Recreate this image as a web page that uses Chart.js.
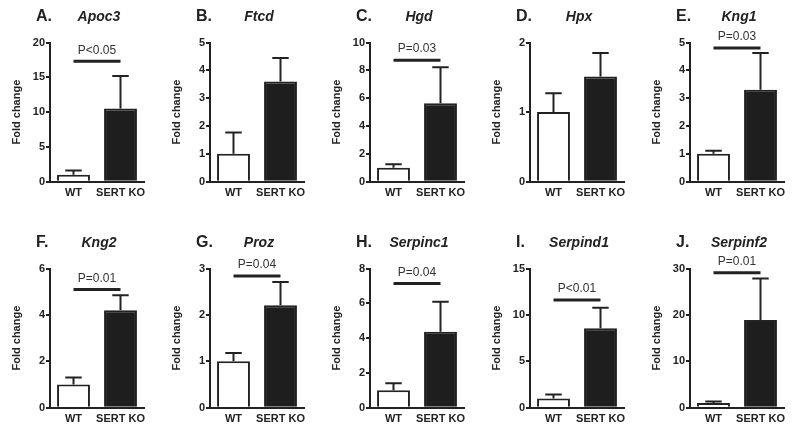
<!DOCTYPE html>
<html lang="en">
<head>
  <meta charset="UTF-8" />
  <title>Fold change, WT vs SERT KO</title>
  <script src="https://cdn.jsdelivr.net/npm/chart.js"></script>
  <style>
    body { margin: 0; background: #fff; }
    #wrap { position: relative; width: 800px; height: 430px; overflow: hidden; }
    #wrap canvas { position: absolute; }
  </style>
</head>
<body>
  <div id="wrap"></div>

  <script>
    // values (mean and upper SEM)
    const letters = ['A.', 'B.', 'C.', 'D.', 'E.', 'F.', 'G.', 'H.', 'I.', 'J.'];
    const genes = ['Apoc3', 'Ftcd', 'Hgd', 'Hpx', 'Kng1', 'Kng2', 'Proz', 'Serpinc1', 'Serpind1', 'Serpinf2'];
    const groups = ['WT', 'SERT KO'];
    const wtMean = [1.0, 1.0, 1.0, 1.0, 1.0, 1.0, 1.0, 1.0, 1.0, 1.0];
    const wtErr = [0.6, 0.77, 0.25, 0.27, 0.11, 0.3, 0.18, 0.4, 0.42, 0.35];
    const koMean = [10.5, 3.6, 5.64, 1.51, 3.3, 4.2, 2.21, 4.36, 8.55, 18.9];
    const koErr = [4.7, 0.84, 2.58, 0.34, 1.32, 0.65, 0.5, 1.73, 2.22, 8.95];
    const yMax = [20, 5, 10, 2, 5, 6, 3, 8, 15, 30];
    const yStep = [5, 1, 2, 1, 1, 2, 1, 2, 5, 10];
    const pText = ['P<0.05', null, 'P=0.03', null, 'P=0.03', 'P=0.01', 'P=0.04', 'P=0.04', 'P<0.01', 'P=0.01'];
    const pLevel = [17.3, null, 8.73, null, 4.8, 5.1, 2.84, 7.14, 11.6, 29.1];

    const FONT = "'Liberation Sans', Arial, sans-serif";
    const INK = '#222';

    const extras = {
      id: 'extras',
      afterDatasetsDraw(chart) {
        const i = chart.options.plugins.extras.index;
        const ctx = chart.ctx;
        const y = chart.scales.y;
        const bars = chart.getDatasetMeta(0).data;
        const tops = [wtMean[i] + wtErr[i], koMean[i] + koErr[i]];
        ctx.save();
        ctx.strokeStyle = INK;
        ctx.lineWidth = 2;
        bars.forEach((bar, j) => {
          const ty = y.getPixelForValue(tops[j]);
          const half = bar.width / 4;
          ctx.beginPath();
          ctx.moveTo(bar.x, bar.y);
          ctx.lineTo(bar.x, ty);
          ctx.moveTo(bar.x - half, ty);
          ctx.lineTo(bar.x + half, ty);
          ctx.stroke();
        });
        if (pText[i]) {
          const ly = y.getPixelForValue(pLevel[i]);
          ctx.lineWidth = 3;
          ctx.beginPath();
          ctx.moveTo(bars[0].x, ly);
          ctx.lineTo(bars[1].x, ly);
          ctx.stroke();
          ctx.fillStyle = '#333';
          ctx.font = '12px ' + FONT;
          ctx.textAlign = 'center';
          ctx.textBaseline = 'middle';
          ctx.fillText(pText[i], (bars[0].x + bars[1].x) / 2, ly - 11);
        }
        ctx.restore();
      },
      afterDraw(chart) {
        const i = chart.options.plugins.extras.index;
        const ctx = chart.ctx;
        ctx.save();
        ctx.fillStyle = INK;
        ctx.textBaseline = 'middle';
        ctx.font = 'bold 16px ' + FONT;
        ctx.textAlign = 'left';
        ctx.fillText(letters[i], 36, 17);
        ctx.font = 'italic bold 14px ' + FONT;
        ctx.textAlign = 'center';
        ctx.fillText(genes[i], 99, 17);
        ctx.restore();
      }
    };

    const wrap = document.getElementById('wrap');
    genes.forEach((g, i) => {
      const c = document.createElement('canvas');
      c.width = 160;
      c.height = 204;
      c.style.left = (i % 5) * 160 + 'px';
      c.style.top = (i < 5 ? 0 : 226) + 'px';
      wrap.appendChild(c);

      new Chart(c, {
        type: 'bar',
        data: {
          labels: groups,
          datasets: [{
            data: [wtMean[i], koMean[i]],
            backgroundColor: ['#fff', '#1e1e1e'],
            borderColor: INK,
            borderWidth: 2,
            barPercentage: 0.7,
            categoryPercentage: 1
          }]
        },
        options: {
          responsive: false,
          animation: false,
          devicePixelRatio: 1,
          layout: { padding: { top: 42.5, right: 16, left: 0, bottom: 0 } },
          plugins: {
            legend: { display: false },
            tooltip: { enabled: false },
            extras: { index: i }
          },
          scales: {
            x: {
              afterFit: s => { s.height = 22.3; },
              grid: { display: false },
              border: { display: true, color: INK, width: 2 },
              ticks: {
                color: INK, padding: -3, autoSkip: false, maxRotation: 0, minRotation: 0,
                font: { family: FONT, size: 11, weight: 'bold' }
              }
            },
            y: {
              min: 0,
              max: yMax[i],
              afterFit: s => { s.width = 50; },
              grid: { drawOnChartArea: false, drawTicks: true, tickLength: 4, color: INK, lineWidth: 2 },
              border: { display: true, color: INK, width: 2 },
              ticks: { stepSize: yStep[i], color: INK, padding: 1, font: { family: FONT, size: 11, weight: 'bold' } },
              title: {
                display: true,
                text: 'Fold change',
                color: INK,
                padding: { top: 10, bottom: 0 },
                font: { family: FONT, size: 11, weight: 'bold' }
              }
            }
          }
        },
        plugins: [extras]
      });
    });
  </script>
</body>
</html>
